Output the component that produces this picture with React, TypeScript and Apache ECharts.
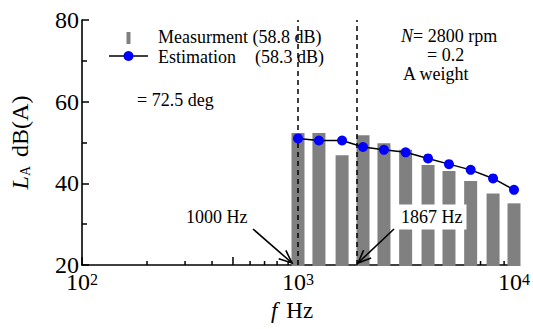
import React, { useEffect, useRef } from "react";
import * as echarts from "echarts";

const bandFreqs = [1000, 1250, 1600, 2000, 2500, 3150, 4000, 5000, 6300, 8000, 10000];
const measured = [52.3, 52.3, 46.9, 51.8, 49.8, 48.2, 44.5, 43.0, 40.6, 37.5, 35.1];
const estimated = [51.0, 50.5, 50.5, 48.9, 48.2, 47.6, 46.1, 44.7, 43.3, 41.2, 38.4];
const minorTicksX = [200, 300, 400, 500, 600, 700, 800, 900, 2000, 3000, 4000, 5000, 6000, 7000, 8000, 9000];
const markFreqs = [1000, 1867];

const SERIF = "Liberation Serif";
const FS = 18;

function arrow(x1: number, y1: number, x2: number, y2: number) {
  const ang = Math.atan2(y2 - y1, x2 - x1);
  const len = 14;
  const spread = 0.4;
  const a1 = ang + Math.PI - spread;
  const a2 = ang + Math.PI + spread;
  return [
    { type: "line", shape: { x1, y1, x2, y2 }, style: { stroke: "#000", lineWidth: 1.6 }, z: 20 },
    {
      type: "polyline",
      shape: {
        points: [
          [x2 + len * Math.cos(a1), y2 + len * Math.sin(a1)],
          [x2, y2],
          [x2 + len * Math.cos(a2), y2 + len * Math.sin(a2)],
        ],
      },
      style: { stroke: "#000", lineWidth: 1.6, fill: "none" },
      z: 20,
    },
  ];
}

export default function App() {
  const ref = useRef<HTMLDivElement>(null);
  useEffect(() => {
    if (!ref.current) return;
    const chart = echarts.init(ref.current, null, { renderer: "svg" });
    const txt = (x: number, y: number, text: string, extra: any = {}) => ({
      type: "text",
      x,
      y,
      z: 20,
      style: { text, fontFamily: SERIF, fontSize: FS, lineHeight: 17, fill: "#000", verticalAlign: "middle", ...extra },
    });
    chart.setOption({
      animation: false,
      backgroundColor: "#fff",
      textStyle: { fontFamily: SERIF },
      grid: { left: 82, right: 16, top: 20, bottom: 64 },
      xAxis: {
        type: "log",
        logBase: 10,
        min: 100,
        max: 10000,
        name: "{i|f}   {n|Hz}",
        nameLocation: "middle",
        nameGap: 29,
        nameTextStyle: {
          fontFamily: SERIF,
          padding: [0, 12, 0, 0],
          rich: {
            i: { fontFamily: SERIF, fontSize: 23, fontStyle: "italic", color: "#000" },
            n: { fontFamily: SERIF, fontSize: 23, color: "#000" },
          },
        },
        axisLine: { lineStyle: { color: "#000", width: 1.6 } },
        axisTick: { inside: true, length: 8, lineStyle: { color: "#000", width: 1.5 } },
        splitLine: { show: false },
        axisLabel: {
          margin: 6,
          fontFamily: SERIF,
          formatter: (v: number) => `{b|10}{s|${Math.round(Math.log10(v))}}`,
          rich: {
            b: { fontFamily: SERIF, fontSize: 24, lineHeight: 22, color: "#000" },
            s: { fontFamily: SERIF, fontSize: 16, color: "#000", verticalAlign: "top" },
          },
        },
      },
      yAxis: {
        type: "value",
        min: 20,
        max: 80,
        interval: 20,
        name: "{i|L}{sub|A}   {n|dB(A)}",
        nameLocation: "middle",
        nameGap: 50,
        nameTextStyle: {
          fontFamily: SERIF,
          rich: {
            i: { fontFamily: SERIF, fontSize: 24, fontStyle: "italic", color: "#000" },
            sub: { fontFamily: SERIF, fontSize: 14, color: "#000", verticalAlign: "bottom", padding: [8, 0, 0, 0] },
            n: { fontFamily: SERIF, fontSize: 24, color: "#000" },
          },
        },
        axisLine: { show: true, lineStyle: { color: "#000", width: 1.6 } },
        axisTick: { show: true, inside: true, length: 7, lineStyle: { color: "#000", width: 1.5 } },
        minorTick: { show: true, splitNumber: 2, length: 5, lineStyle: { color: "#000", width: 1.5 } },
        splitLine: { show: false },
        axisLabel: { margin: 3, fontFamily: SERIF, fontSize: 24, lineHeight: 18, color: "#000" },
      },
      series: [
        {
          type: "custom",
          name: "Measurment",
          data: bandFreqs.map((f, i) => [f, measured[i]]),
          renderItem: (params: any, api: any) => {
            const top = api.coord([api.value(0), api.value(1)]);
            const bot = api.coord([api.value(0), 20]);
            const w = 13;
            return {
              type: "rect",
              shape: { x: top[0] - w / 2, y: top[1], width: w, height: bot[1] - top[1] + 1 },
              style: { fill: "#808080" },
            };
          },
          z: 3,
        },
        {
          type: "custom",
          name: "minorX",
          data: minorTicksX.map((f) => [f]),
          renderItem: (params: any, api: any) => {
            const v = api.value(0);
            const p = api.coord([v, 20]);
            const len = v === 500 || v === 5000 ? 8 : 4;
            return {
              type: "line",
              shape: { x1: p[0], y1: p[1], x2: p[0], y2: p[1] - len },
              style: { stroke: "#000", lineWidth: 1.5 },
            };
          },
          z: 2,
          silent: true,
        },
        {
          type: "line",
          name: "Estimation",
          data: bandFreqs.map((f, i) => [f, estimated[i]]),
          symbol: "circle",
          symbolSize: 10,
          itemStyle: { color: "#0000ff" },
          lineStyle: { color: "#000", width: 1.5 },
          z: 5,
          markLine: {
            silent: true,
            symbol: "none",
            label: { show: false },
            lineStyle: { color: "#000", type: [5, 4], width: 1.5 },
            data: markFreqs.map((f) => ({ xAxis: f })),
          },
        },
      ],
      graphic: [
        { type: "rect", shape: { x: 126.5, y: 32, width: 4, height: 12 }, style: { fill: "#808080" }, z: 20 },
        txt(158, 37, "Measurment (58.8 dB)"),
        { type: "line", shape: { x1: 109, y1: 56, x2: 148, y2: 56 }, style: { stroke: "#000", lineWidth: 1.5 }, z: 20 },
        { type: "circle", shape: { cx: 128.5, cy: 56, r: 5 }, style: { fill: "#0000ff" }, z: 21 },
        txt(158, 57, "Estimation"),
        txt(255, 57, "(58.3 dB)"),
        {
          type: "text",
          x: 401,
          y: 36,
          z: 20,
          style: {
            text: "{i|N}{n|= 2800 rpm}",
            verticalAlign: "middle",
            rich: {
              i: { fontFamily: SERIF, fontSize: 18, lineHeight: 17, fontStyle: "italic", fill: "#000" },
              n: { fontFamily: SERIF, fontSize: 18, lineHeight: 17, fill: "#000" },
            },
          },
        },
        txt(427, 55, "= 0.2"),
        txt(403, 74, "A weight"),
        txt(137, 100, "= 72.5 deg"),
        txt(186, 217, "1000 Hz"),
        txt(397, 217, "1867 Hz", { backgroundColor: "#fff", padding: [4, 4, 4, 4] }),
        ...arrow(253, 229, 292, 263),
        ...arrow(394, 229, 358, 263),
      ],
    });
    return () => chart.dispose();
  }, []);
  return <div ref={ref} style={{ position: "fixed", left: 0, top: 0, width: 533, height: 329 }} />;
}
